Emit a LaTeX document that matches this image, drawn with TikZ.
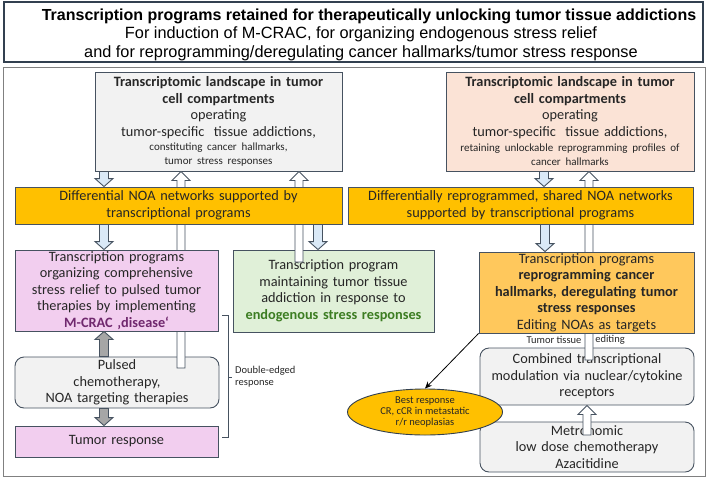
\documentclass[tikz,border=0pt]{standalone}
\usepackage{fontspec}
\setmainfont{Carlito}
\newfontfamily\titlefont{Liberation Sans}
\usetikzlibrary{calc,shapes.geometric,arrows.meta}
\definecolor{boxline}{RGB}{70,82,96}
\definecolor{frameline}{RGB}{128,128,128}
\definecolor{titleline}{RGB}{50,64,80}
\definecolor{txt}{RGB}{38,38,38}
\definecolor{grayF}{RGB}{242,242,242}
\definecolor{peach}{RGB}{251,227,214}
\definecolor{orangeA}{RGB}{255,192,0}
\definecolor{orangeB}{RGB}{255,200,92}
\definecolor{pinkA}{RGB}{242,206,239}
\definecolor{greenA}{RGB}{224,240,216}
\definecolor{blueA}{RGB}{218,233,247}
\definecolor{grayA}{RGB}{166,166,166}
\definecolor{mcrac}{RGB}{112,40,110}
\definecolor{greenT}{RGB}{60,125,34}
\newcommand\smtxt{\fontsize{11}{13}\selectfont}

\begin{document}
\begin{tikzpicture}[x=1pt,y=-1pt,
	box/.style={draw=boxline,line width=0.9pt,align=center,inner xsep=2pt,inner ysep=0pt,text=txt,font=\fontsize{14.3}{16.5}\selectfont},
	rbox/.style={box,rounded corners=9pt},
	tiny/.style={text=txt,font=\fontsize{10.5}{12}\selectfont,inner sep=0pt}]
	\useasboundingbox (0,0) rectangle (708,479);
	% heading and frame
	\draw[titleline,line width=1.2pt] (4,2) rectangle (703,62);
	\node[align=center,inner sep=0pt,text=black,font=\titlefont\fontsize{16.3}{18.5}\selectfont] (title) at (361,34.5) {\hspace*{16pt}{\fontsize{16}{18.5}\selectfont\bfseries Transcription programs retained for therapeutically unlocking tumor tissue addictions}\\For induction of M-CRAC, for organizing endogenous stress relief\\and for reprogramming/deregulating cancer hallmarks/tumor stress response};
	\draw[frameline,line width=0.9pt] (3,67) rectangle (705,476);
	% boxes under the long arrows
	\node[box,fill=grayF,minimum width=247,minimum height=99,text width=243] (landL) at (218.5,121.5) {\textbf{Transcriptomic landscape in tumor}\\\textbf{cell compartments}\\operating\\tumor-specific\ \ tissue addictions,\\[-2.5pt]{\smtxt constituting cancer hallmarks,}\\[-2.5pt]{\smtxt tumor stress responses}};
	\node[box,fill=peach,minimum width=248,minimum height=99,text width=244] (landR) at (570,121.5) {\textbf{Transcriptomic landscape in tumor}\\\textbf{cell compartments}\\operating\\tumor-specific\ \ tissue addictions,\\[-1pt]{\smtxt retaining unlockable reprogramming profiles of}\\[-2.5pt]{\smtxt cancer hallmarks}};
	\node[rbox,fill=grayF,minimum width=204,minimum height=51,text width=200] (pulsed) at (117,382.5) {Pulsed\\chemotherapy,\\NOA targeting therapies};
	\node[box,fill=greenA,minimum width=201,minimum height=82,text width=197] (green) at (333.5,291) {Transcription program\\maintaining tumor tissue\\addiction in response to\\\textbf{\color{greenT}endogenous stress responses}};
	\node[rbox,fill=grayF,minimum width=214,minimum height=57,text width=210] (comb) at (587,376.5) {Combined transcriptional\\modulation via nuclear/cytokine\\receptors};
	\node[rbox,fill=grayF,minimum width=214,minimum height=50,text width=210] (metro) at (587,447) {Metronomic\\low dose chemotherapy\\Azacitidine};
	% long white arrows
	\coordinate (pulsedIn) at (181,368);
	\coordinate (greenIn) at (299,262);
	\coordinate (combIn) at (589,360);
	\coordinate (metroIn) at (587,435);
	\foreach \a/\b in {pulsedIn/{landL.south -| pulsedIn},greenIn/{landL.south -| greenIn},combIn/{landR.south -| combIn},metroIn/{comb.south -| metroIn}}
		\draw[draw=boxline,line width=0.9pt,fill=white] let \p1=(\a), \p2=(\b), \n1={sign(\y2-\y1)} in (\x1-4pt,\y1) -- (\x1-4pt,{\y2-9pt*(\n1)}) -- (\x1-9pt,{\y2-9pt*(\n1)}) -- (\x2,\y2) -- (\x1+9pt,{\y2-9pt*(\n1)}) -- (\x1+4pt,{\y2-9pt*(\n1)}) -- (\x1+4pt,\y1) -- cycle;
	% boxes over the long arrows
	\node[box,fill=orangeA,minimum width=327,minimum height=37,text width=323] (noaL) at (178.5,205.5) {Differential NOA networks supported by\\transcriptional programs};
	\node[box,fill=orangeA,minimum width=345,minimum height=37,text width=341] (noaR) at (520.5,205.5) {Differentially reprogrammed, shared NOA networks\\supported by transcriptional programs};
	\node[box,fill=pinkA,minimum width=203,minimum height=81,text width=199] (progL) at (116.5,290.5) {Transcription programs\\organizing comprehensive\\stress relief to pulsed tumor\\therapies by implementing\\\textbf{\color{mcrac}M-CRAC ‚disease‘}};
	\node[box,fill=orangeB,minimum width=215,minimum height=81,text width=211] (progR) at (586.5,292.5) {Transcription programs\\\textbf{reprogramming cancer}\\\textbf{hallmarks, deregulating tumor}\\\textbf{stress responses}\\Editing NOAs as targets};
	\node[box,fill=pinkA,minimum width=203,minimum height=31,text width=199] (tumor) at (116.5,441.5) {Tumor response};
	% short block arrows
	\foreach \a/\b/\c in {{landL.south -| 104,0}/{noaL.north -| 104,0}/blueA,{noaL.south -| 104,0}/{progL.north -| 104,0}/blueA,{noaL.south -| 318,0}/{green.north -| 318,0}/blueA,{landR.south -| 544,0}/{noaR.north -| 544,0}/blueA,{noaR.south -| 545,0}/{progR.north -| 545,0}/blueA,{pulsed.north -| 104,0}/{progL.south -| 104,0}/grayA,{pulsed.south -| 104,0}/{tumor.north -| 104,0}/grayA}
		\draw[draw=boxline,line width=0.9pt,fill=\c] let \p1=(\a), \p2=(\b), \n1={sign(\y2-\y1)} in (\x1-4.5pt,\y1) -- (\x1-4.5pt,{\y2-8pt*(\n1)}) -- (\x1-9pt,{\y2-8pt*(\n1)}) -- (\x2,\y2) -- (\x1+9pt,{\y2-8pt*(\n1)}) -- (\x1+4.5pt,{\y2-8pt*(\n1)}) -- (\x1+4.5pt,\y1) -- cycle;
	% best response
	\node[ellipse,draw=titleline,line width=0.9pt,fill=orangeA,minimum width=155,minimum height=46,inner sep=0pt,align=center,text=txt,font=\fontsize{10.5}{10.8}\selectfont] (best) at (425,412) {Best response\\CR, cCR in metastatic\\r/r neoplasias};
	\draw[-{Stealth[length=7pt,width=6pt]},black,line width=0.8pt] (progR.south west) -- (best.north);
	\node[tiny] (tissue) at (554,340) {Tumor tissue};
	\node[tiny] (editing) at (610,340) {editing};
	% double-edged bracket
	\draw[boxline,line width=0.8pt] (222,315) -- (228,315) -- (228,437) -- (222,437) (228,377) -- (232,377);
	\node[tiny,anchor=west,align=left] (edged) at (235,377) {Double-edged\\response};
\end{tikzpicture}
\end{document}
